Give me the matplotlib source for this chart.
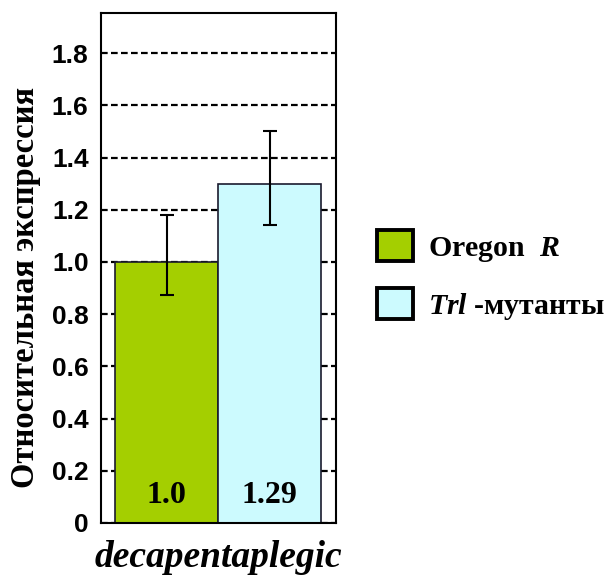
import matplotlib
matplotlib.use("Agg")
import matplotlib.pyplot as plt
from matplotlib.patches import Patch

# data
groups = ["Oregon R", "Trl-мутанты"]
values = [1.0, 1.3]
value_labels = ["1.0", "1.29"]
err_low = [0.126, 0.16]
err_high = [0.18, 0.20]
yticks = [0, 0.2, 0.4, 0.6, 0.8, 1.0, 1.2, 1.4, 1.6, 1.8]
ytick_labels = ["0", "0.2", "0.4", "0.6", "0.8", "1.0", "1.2", "1.4", "1.6", "1.8"]
colors = ["#A4CF00", "#CCFAFE"]

plt.rcParams["mathtext.fontset"] = "custom"
plt.rcParams["mathtext.rm"] = "Liberation Serif:bold"
plt.rcParams["mathtext.it"] = "Liberation Serif:italic:bold"

fig = plt.figure(figsize=(6.06, 5.77), dpi=100)
ax = fig.add_axes([101 / 606, 1 - 523 / 577, 235 / 606, 510 / 577])

x = [0, 1]
ax.bar(x, values, width=1.0, color=colors, edgecolor="#1a1a2e", linewidth=1.2, zorder=2)
ax.errorbar(x, values, yerr=[err_low, err_high], fmt="none", ecolor="black",
            elinewidth=1.5, capsize=5, capthick=1.5, zorder=3)

for xi, lab in zip(x, value_labels):
    ax.text(xi, 0.107, lab, ha="center", va="center", fontsize=23,
            family="Liberation Serif", weight="bold", zorder=4)

ax.set_xlim(-0.64, 1.645)
ax.set_ylim(0, 1.954)
ax.set_yticks(yticks)
ax.set_yticklabels(ytick_labels, family="Liberation Sans", weight="bold", fontsize=19)
ax.set_xticks([])
ax.tick_params(axis="y", direction="in", length=0, pad=9)
ax.yaxis.grid(True, color="black", linestyle=(0, (3.0, 1.5)), linewidth=1.6)
ax.set_axisbelow(True)
for s in ax.spines.values():
    s.set_linewidth(1.5)

ax.set_xlabel("decapentaplegic", family="Liberation Serif", weight="bold",
              style="italic", fontsize=27, labelpad=12)
ax.set_ylabel("Относительная экспрессия", family="Liberation Serif",
              weight="bold", fontsize=23.5)
ax.yaxis.set_label_coords(-0.256, 0.462)

handles = [Patch(facecolor=c, edgecolor="black", linewidth=2.8) for c in colors]
labels = ["Oregon  $\\mathit{R}$", "$\\mathit{Trl}$ -мутанты"]
fig.legend(handles, labels, loc="center left", bbox_to_anchor=(377 / 606, 1 - 276 / 577),
           frameon=False, prop={"family": "Liberation Serif", "weight": "bold", "size": 21.5},
           handlelength=1.22, handleheight=1.22, labelspacing=0.8, handletextpad=0.5,
           borderpad=0, borderaxespad=0)

fig.savefig("out.png", dpi=100)
